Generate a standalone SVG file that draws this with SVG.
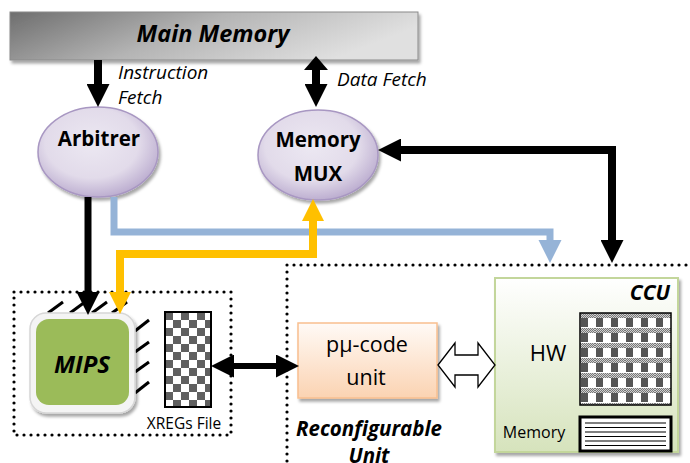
<svg xmlns="http://www.w3.org/2000/svg" width="690" height="463" viewBox="0 0 690 463">
<style>
text{font-family:"Open Sans","Liberation Sans",sans-serif;fill:#000}
.bi{font-weight:bold;font-style:italic}
.b{font-weight:bold}
.i{font-style:italic}
.dot{fill:none;stroke:#000;stroke-width:3.2;stroke-linecap:round;stroke-dasharray:0 7}
.blk{fill:none;stroke:#000;stroke-width:8}
.hatch{stroke:#000;stroke-width:3}
.ell{stroke:#a897c2;stroke-width:1.5;fill:url(#gEll);filter:url(#sh)}
</style>
<defs>
<filter id="sh" x="-10%" y="-10%" width="130%" height="130%"><feDropShadow dx="2" dy="3" stdDeviation="1.5" flood-color="#000" flood-opacity="0.35"/></filter>
<linearGradient id="gMem" x1="0" y1="0" x2="1" y2="0.3"><stop offset="0" stop-color="#6e6e6e"/><stop offset="0.5" stop-color="#b4b4b4"/><stop offset="1" stop-color="#e0e0e0"/></linearGradient>
<radialGradient id="gEll" cx="0.45" cy="0.4" r="0.65"><stop offset="0" stop-color="#ece8f2"/><stop offset="0.6" stop-color="#e2dbea"/><stop offset="1" stop-color="#b5a5cb"/></radialGradient>
<linearGradient id="gPu" x1="0" y1="0" x2="0" y2="1"><stop offset="0" stop-color="#fffaf6"/><stop offset="1" stop-color="#fbd3b2"/></linearGradient>
<linearGradient id="gCcu" x1="0" y1="0" x2="0" y2="1"><stop offset="0" stop-color="#ffffff"/><stop offset="1" stop-color="#d6e3bc"/></linearGradient>
<pattern id="chk" x="165" y="312" width="16" height="16" patternUnits="userSpaceOnUse"><rect width="16" height="16" fill="#fff"/><rect width="8" height="8" fill="#606060"/><rect x="8" y="8" width="8" height="8" fill="#606060"/></pattern>
<pattern id="dith" width="2" height="2" patternUnits="userSpaceOnUse"><rect width="2" height="2" fill="#d0d0d0"/><rect width="1" height="1" fill="#777"/><rect x="1" y="1" width="1" height="1" fill="#777"/></pattern>
<pattern id="hw" x="580" y="313" width="15" height="15" patternUnits="userSpaceOnUse"><rect width="15" height="15" fill="#fff"/><rect width="15" height="5" fill="url(#dith)"/><rect x="1" y="5" width="7" height="9" fill="#555"/></pattern>
<marker id="ak" viewBox="0 0 24 24" refX="0" refY="12" markerWidth="23" markerHeight="23" markerUnits="userSpaceOnUse" orient="auto-start-reverse"><path d="M0,0 L24,12 L0,24 z" fill="#000"/></marker>
<marker id="ab" viewBox="0 0 24 24" refX="0" refY="12" markerWidth="23" markerHeight="24" markerUnits="userSpaceOnUse" orient="auto-start-reverse"><path d="M0,0 L24,12 L0,24 z" fill="#95b3d7"/></marker>
<marker id="ao" viewBox="0 0 24 24" refX="0" refY="12" markerWidth="22" markerHeight="23" markerUnits="userSpaceOnUse" orient="auto-start-reverse"><path d="M0,0 L24,12 L0,24 z" fill="#ffc000"/></marker>
</defs>
<rect width="690" height="463" fill="#fff"/>

<g id="main-memory">
<rect x="10" y="12" width="408" height="48" fill="url(#gMem)" stroke="#8a8a8a" stroke-width="1" filter="url(#sh)"/>
<text x="213" y="42" font-size="23.5" class="bi" text-anchor="middle">Main Memory</text>
</g>

<g id="reconfigurable-unit">
<path class="dot" d="M287,265 H690 M287,265 V463"/>
<text x="369" y="436" font-size="20.5" class="bi" text-anchor="middle">Reconfigurable</text>
<text x="369" y="463" font-size="20.5" class="bi" text-anchor="middle">Unit</text>
</g>

<g id="mips-block">
<rect class="dot" x="14" y="292" width="217" height="143"/>
<line class="hatch" x1="48" y1="313" x2="63" y2="302"/>
<line class="hatch" x1="70" y1="313" x2="85" y2="302"/>
<line class="hatch" x1="92" y1="313" x2="107" y2="302"/>
<line class="hatch" x1="112" y1="313" x2="127" y2="302"/>
<line class="hatch" x1="135" y1="331" x2="149" y2="320"/>
<line class="hatch" x1="135" y1="352" x2="149" y2="342"/>
<line class="hatch" x1="135" y1="372" x2="149" y2="362"/>
<line class="hatch" x1="135" y1="393" x2="149" y2="382"/>
</g>

<g id="mips">
<rect x="30" y="313" width="105" height="100" rx="16" fill="#f4f4f4" stroke="#d6d6d6" stroke-width="1.5" filter="url(#sh)"/>
<rect x="36" y="319" width="93" height="86" rx="13" fill="#9bbb59"/>
<text x="82" y="373" font-size="24" class="bi" text-anchor="middle">MIPS</text>
</g>

<g id="xregs">
<rect x="165" y="312" width="46" height="95" fill="url(#chk)" stroke="#000" stroke-width="2"/>
<text x="184" y="429" font-size="15.5" text-anchor="middle">XREGs File</text>
</g>

<g id="arbitrer">
<ellipse class="ell" cx="98" cy="152" rx="60" ry="45"/>
<text x="99" y="146" font-size="20.5" class="b" text-anchor="middle">Arbitrer</text>
</g>

<g id="memory-mux">
<ellipse class="ell" cx="318" cy="155" rx="60" ry="45"/>
<text x="318" y="147" font-size="20.5" class="b" text-anchor="middle">Memory</text>
<text x="318" y="181" font-size="20.5" class="b" text-anchor="middle">MUX</text>
</g>

<g id="pu-code-unit">
<rect x="298" y="323" width="139" height="75" fill="url(#gPu)" stroke="#f9bf8f" stroke-width="1.5" filter="url(#sh)"/>
<text x="367" y="352" font-size="21.5" text-anchor="middle">pμ-code</text>
<text x="366" y="385" font-size="21.5" text-anchor="middle">unit</text>
</g>

<g id="ccu">
<rect x="495" y="278" width="183" height="174" fill="url(#gCcu)" stroke="#c3d69b" stroke-width="2" filter="url(#sh)"/>
<text x="670" y="300" font-size="21" class="bi" text-anchor="end">CCU</text>
<text x="548" y="361" font-size="22" text-anchor="middle">HW</text>
<rect x="580" y="313" width="91" height="92" fill="url(#hw)" stroke="#000" stroke-width="1.5"/>
<text x="534" y="438" font-size="16" text-anchor="middle">Memory</text>
<rect x="580" y="417" width="91" height="34" fill="#fff" stroke="#000" stroke-width="3"/>
<path d="M585,423 H666 M585,427.5 H666 M585,432 H666 M585,436.5 H666 M585,441 H666 M585,445.5 H666" stroke="#000" stroke-width="1.2"/>
</g>

<g id="connectors">
<!-- instruction fetch -->
<path class="blk" d="M98,60 V84" marker-end="url(#ak)"/>
<text x="118" y="79" font-size="19" class="i">Instruction</text>
<text x="118" y="104" font-size="19" class="i">Fetch</text>
<!-- data fetch -->
<path class="blk" d="M316,80 V84" marker-end="url(#ak)"/>
<path d="M316,56 L328,70 L304,70 Z" fill="#000"/>
<rect x="312" y="69" width="8" height="12" fill="#000"/>
<text x="337" y="86" font-size="19" class="i">Data Fetch</text>
<!-- arbitrer to mips -->
<path d="M88,197 V292" fill="none" stroke="#000" stroke-width="7" marker-end="url(#ak)"/>
<!-- blue arbitrer to ccu -->
<path d="M114,197 V232 H550 V240" fill="none" stroke="#95b3d7" stroke-width="7" stroke-linejoin="miter" marker-end="url(#ab)"/>
<!-- orange mips to mux -->
<path d="M120,292 V254 H313 V221" fill="none" stroke="#ffc000" stroke-width="8" stroke-linejoin="miter" marker-start="url(#ao)" marker-end="url(#ao)"/>
<!-- ccu to mux -->
<path class="blk" d="M612,240 V150 H401" marker-start="url(#ak)" marker-end="url(#ak)"/>
<!-- xregs to pu-code -->
<path d="M234,366 H276" fill="none" stroke="#000" stroke-width="6" marker-start="url(#ak)" marker-end="url(#ak)"/>
<!-- hollow double arrow -->
<path d="M438,365 L455,343 V355 H478 V343 L495,365 L478,387 V375 H455 V387 Z" fill="#fff" stroke="#000" stroke-width="1.3"/>
</g>
</svg>
